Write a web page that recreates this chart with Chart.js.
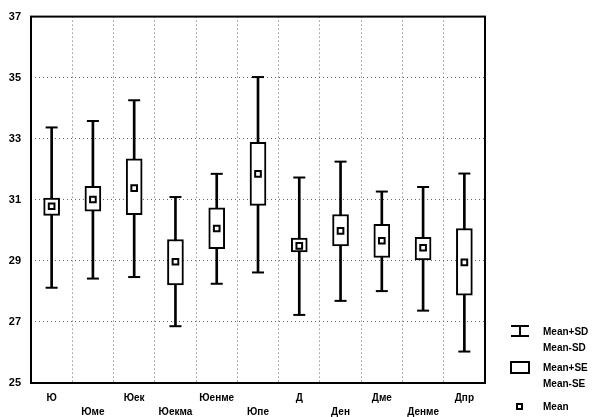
<!DOCTYPE html>
<html><head><meta charset="utf-8">
<script src="https://cdn.jsdelivr.net/npm/chart.js@4"></script>
<style>html,body{margin:0;padding:0;background:#fff}#wrap{width:600px;height:417px;position:relative}</style>
</head><body><div id="wrap"><canvas id="c"></canvas></div>
<script>
const categories = ['Ю','Юме','Юек','Юекма','Юенме','Юпе','Д','Ден','Дме','Денме','Дпр'];
const means  = [30.79, 31.01, 31.38, 28.97, 30.06, 31.85, 29.49, 29.98, 29.66, 29.43, 28.95];
const seHigh = [31.06, 31.44, 32.34, 29.70, 30.74, 32.88, 29.75, 30.52, 30.20, 29.77, 30.06];
const seLow  = [30.49, 30.63, 30.51, 28.21, 29.40, 30.82, 29.29, 29.49, 29.11, 29.03, 27.88];
const sdHigh = [33.37, 33.58, 34.26, 31.09, 31.85, 35.02, 31.73, 32.25, 31.27, 31.42, 31.86];
const sdLow  = [28.12, 28.42, 28.47, 26.86, 28.25, 28.62, 27.23, 27.69, 28.01, 27.37, 26.03];
const yTicks = [25, 27, 29, 31, 33, 35, 37];
const legendLabels = [['Mean+SD','Mean-SD'],['Mean+SE','Mean-SE'],['Mean']];

const FONT = 'Liberation Sans, Arial, sans-serif';

const capsPlugin = {
  id: 'caps',
  afterDatasetsDraw(chart) {
    const ctx = chart.ctx, x = chart.scales.x, y = chart.scales.y;
    ctx.save();
    ctx.strokeStyle = '#000';
    ctx.lineWidth = 2;
    categories.forEach((c, i) => {
      const px = x.getPixelForValue(i);
      [sdHigh[i], sdLow[i]].forEach(v => {
        const py = y.getPixelForValue(v);
        ctx.beginPath(); ctx.moveTo(px - 6, py); ctx.lineTo(px + 6, py); ctx.stroke();
      });
    });
    ctx.restore();
  }
};

const framePlugin = {
  id: 'frame',
  afterDraw(chart) {
    const ctx = chart.ctx, a = chart.chartArea;
    ctx.save();
    ctx.strokeStyle = '#000';
    ctx.lineWidth = 2;
    ctx.strokeRect(a.left, a.top, a.right - a.left, a.bottom - a.top);
    const lx = 511, tx = 543;
    ctx.fillStyle = '#000';
    ctx.font = 'bold 10px ' + FONT;
    ctx.textBaseline = 'middle';
    ctx.lineWidth = 2;
    ctx.beginPath();
    ctx.moveTo(lx, 326); ctx.lineTo(lx + 18, 326);
    ctx.moveTo(lx + 9, 326); ctx.lineTo(lx + 9, 336);
    ctx.moveTo(lx, 336); ctx.lineTo(lx + 18, 336);
    ctx.stroke();
    ctx.fillText(legendLabels[0][0], tx, 332);
    ctx.fillText(legendLabels[0][1], tx, 348);
    ctx.strokeRect(lx, 362, 18, 11);
    ctx.fillText(legendLabels[1][0], tx, 368);
    ctx.fillText(legendLabels[1][1], tx, 384);
    ctx.strokeRect(lx + 6, 404, 5, 5);
    ctx.fillText(legendLabels[2][0], tx, 407);
    ctx.restore();
  }
};

new Chart(document.getElementById('c'), {
  type: 'bar',
  data: {
    labels: categories,
    datasets: [
      {
        type: 'line', label: 'Mean', data: means, showLine: false,
        pointStyle: 'rect', pointRadius: 4, pointBorderWidth: 2,
        pointBackgroundColor: '#fff', pointBorderColor: '#000', order: 0
      },
      {
        label: 'SE', data: seLow.map((v, i) => [v, seHigh[i]]), grouped: false,
        backgroundColor: '#fff', borderColor: '#000', borderWidth: 2,
        borderSkipped: false, barThickness: 16, order: 1
      },
      {
        label: 'SD', data: sdLow.map((v, i) => [v, sdHigh[i]]), grouped: false,
        backgroundColor: '#000', borderWidth: 0, barThickness: 2, order: 2
      }
    ]
  },
  options: {
    responsive: true, maintainAspectRatio: false, animation: false,
    devicePixelRatio: 1,
    layout: { padding: { left: 0, right: 115, top: 15, bottom: 0 } },
    plugins: { legend: { display: false }, tooltip: { enabled: false } },
    scales: {
      x: {
        offset: true,
        grid: { offset: true, color: '#666', lineWidth: 1, tickLength: 0, drawTicks: false },
        border: { display: false, dash: [1, 3] },
        afterFit: s => { s.height = 34; },
        ticks: {
          autoSkip: false, maxRotation: 0, padding: 8, color: '#000',
          font: { family: FONT, size: 10, weight: 'bold', lineHeight: 1.4 },
          callback: (v, i) => (i % 2 === 0 ? categories[i] : ['', categories[i]])
        }
      },
      y: {
        min: 25, max: 37,
        afterBuildTicks: s => { s.ticks = yTicks.map(v => ({ value: v })); },
        afterFit: s => { s.width = 31; },
        grid: { color: '#666', lineWidth: 1, drawTicks: false },
        border: { display: false, dash: [1, 3] },
        ticks: { padding: 10, color: '#000', font: { family: FONT, size: 11, weight: 'bold' } }
      }
    }
  },
  plugins: [capsPlugin, framePlugin]
});
</script></body></html>
